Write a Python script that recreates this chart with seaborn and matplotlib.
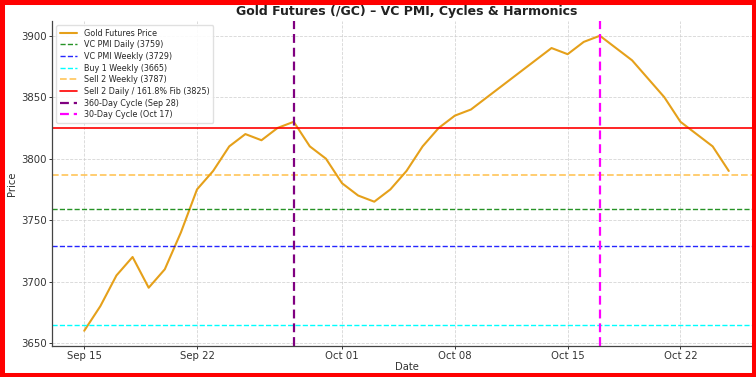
import pandas as pd
import matplotlib
matplotlib.use('Agg')
import matplotlib.pyplot as plt
import matplotlib.dates as mdates
from matplotlib.patches import Rectangle
import seaborn as sns

# Precios diarios (lectura aproximada del gráfico)
fechas = pd.date_range('2025-09-15', '2025-10-25', freq='D')
precios = [3660, 3680, 3705, 3720, 3695, 3710, 3740, 3775, 3790, 3810,
           3820, 3815, 3825, 3830, 3810, 3800, 3780, 3770, 3765, 3775,
           3790, 3810, 3825, 3835, 3840, 3850, 3860, 3870, 3880, 3890,
           3885, 3895, 3900, 3890, 3880, 3865, 3850, 3830, 3820, 3810,
           3790]

# Niveles horizontales
niveles_nombres = ['VC PMI Daily (3759)', 'VC PMI Weekly (3729)', 'Buy 1 Weekly (3665)',
                   'Sell 2 Weekly (3787)', 'Sell 2 Daily / 161.8% Fib (3825)']
niveles_valores = [3759, 3729, 3665, 3787, 3825]
niveles_colores = ['green', 'blue', 'cyan', 'orange', 'red']
niveles_estilos = ['--', '--', '--', '--', '-']
niveles_alpha = [0.85, 0.85, 1.0, 0.6, 1.0]
niveles_lw = [1.0, 1.0, 1.0, 1.3, 1.2]

# Ciclos verticales
ciclos_nombres = ['360-Day Cycle (Sep 28)', '30-Day Cycle (Oct 17)']
ciclos_fechas = pd.to_datetime(['2025-09-28', '2025-10-17'])
ciclos_colores = ['purple', 'magenta']

df = pd.DataFrame({'Date': fechas, 'Price': precios})

sns.set_style('ticks')
plt.rcParams['font.family'] = ['DejaVu Sans']

fig = plt.figure(figsize=(7.56, 3.77), dpi=100)
ax = fig.add_axes([52 / 756, 31.5 / 377, 709 / 756, 324.5 / 377])

sns.lineplot(data=df, x='Date', y='Price', color='#E5A01A', linewidth=1.5,
             label='Gold Futures Price', ax=ax)

for nombre, valor, color, estilo, alfa, lw in zip(niveles_nombres, niveles_valores, niveles_colores,
                                                 niveles_estilos, niveles_alpha, niveles_lw):
    ax.axhline(valor, color=color, linestyle=estilo, alpha=alfa, linewidth=lw, label=nombre)

for nombre, fecha, color in zip(ciclos_nombres, ciclos_fechas, ciclos_colores):
    ax.axvline(fecha, color=color, linestyle='--', linewidth=1.6, dashes=(4, 2.2), label=nombre)

ax.set_title('Gold Futures (/GC) – VC PMI, Cycles & Harmonics', fontsize=9.0,
             fontweight='bold', color='#222222', pad=4)
ax.set_xlabel('Date', fontsize=7.2, color='#333333', labelpad=1)
ax.set_ylabel('Price', fontsize=7.2, color='#333333', labelpad=3)

ax.xaxis.set_major_locator(mdates.DayLocator(bymonthday=[1, 8, 15, 22]))
ax.xaxis.set_major_formatter(mdates.DateFormatter('%b %d'))
ax.set_yticks([3650, 3700, 3750, 3800, 3850, 3900])
ax.tick_params(labelsize=7.3, colors='#333333', length=2.5, width=0.7, pad=1.5)

ax.grid(True, linestyle='--', color='#cccccc', linewidth=0.6, alpha=0.8)
sns.despine(ax=ax)
for s in ['left', 'bottom']:
    ax.spines[s].set_color('#444444')
    ax.spines[s].set_linewidth(0.9)

ax.legend(loc='upper left', fontsize=5.8, frameon=True, framealpha=0.9,
          edgecolor='#dddddd', handlelength=2.2, borderpad=0.45, labelspacing=0.33)

fig.add_artist(Rectangle((0, 0), 1, 1, transform=fig.transFigure, fill=False,
                         edgecolor='red', linewidth=6.5, clip_on=False, zorder=10))

fig.savefig('out.png', dpi=100)
